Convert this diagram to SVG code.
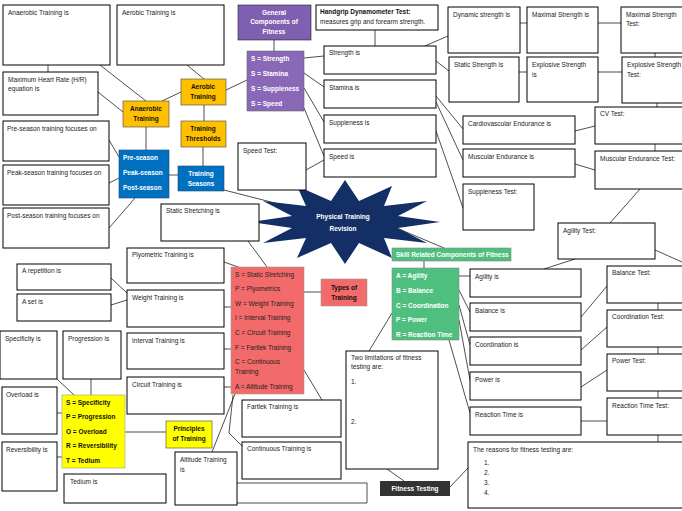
<svg xmlns="http://www.w3.org/2000/svg" width="682" height="511" viewBox="0 0 682 511">
<style>
.b{fill:#fff;stroke:#000;stroke-width:1}
.t{font-family:"Liberation Sans",Arial,sans-serif;font-size:6.5px;fill:#222}
.w{font-family:"Liberation Sans",Arial,sans-serif;font-size:6.5px;fill:#fff;font-weight:bold}
.k{font-family:"Liberation Sans",Arial,sans-serif;font-size:6.5px;fill:#111;font-weight:bold}
.c line{stroke:#222;stroke-width:0.8}
</style>
<rect width="682" height="511" fill="#fff"/>
<g class="c">
<line x1="100" y1="65" x2="146" y2="101"/><line x1="187" y1="65" x2="204" y2="79"/>
<line x1="98" y1="92" x2="123" y2="112"/><line x1="162" y1="101" x2="181" y2="92"/>
<line x1="226" y1="90" x2="247" y2="80"/><line x1="204" y1="105" x2="204" y2="121"/>
<line x1="203" y1="147" x2="203" y2="166"/><line x1="146" y1="127" x2="146" y2="150"/>
<line x1="169" y1="175" x2="178" y2="175"/><line x1="109" y1="140" x2="119" y2="157"/>
<line x1="109" y1="183" x2="119" y2="178"/><line x1="109" y1="228" x2="135" y2="198"/>
<line x1="48" y1="65" x2="48" y2="72"/><line x1="224" y1="190" x2="310" y2="212"/>
<line x1="274" y1="40" x2="274" y2="51"/><line x1="304" y1="58" x2="324" y2="56"/>
<line x1="304" y1="73" x2="324" y2="87"/><line x1="304" y1="88" x2="324" y2="122"/>
<line x1="304" y1="108" x2="324" y2="156"/><line x1="306" y1="170" x2="324" y2="160"/>
<line x1="375" y1="30" x2="375" y2="46"/><line x1="425" y1="46" x2="448" y2="36"/>
<line x1="436" y1="61" x2="449" y2="71"/><line x1="520" y1="23" x2="527" y2="23"/>
<line x1="598" y1="23" x2="621" y2="23"/><line x1="519" y1="72" x2="527" y2="72"/>
<line x1="598" y1="72" x2="622" y2="72"/><line x1="655" y1="53" x2="655" y2="57"/>
<line x1="657" y1="103" x2="657" y2="107"/><line x1="655" y1="144" x2="655" y2="151"/>
<line x1="436" y1="96" x2="463" y2="129"/><line x1="436" y1="102" x2="463" y2="160"/>
<line x1="436" y1="131" x2="463" y2="208"/><line x1="575" y1="131" x2="595" y2="126"/>
<line x1="575" y1="164" x2="595" y2="170"/><line x1="640" y1="189" x2="610" y2="223"/>
<line x1="399" y1="229" x2="444" y2="248"/><line x1="424" y1="261" x2="424" y2="268"/>
<line x1="248" y1="241" x2="267" y2="267"/><line x1="224" y1="262" x2="241" y2="268"/>
<line x1="304" y1="292" x2="321" y2="292"/><line x1="224" y1="307" x2="231" y2="307"/>
<line x1="224" y1="349" x2="231" y2="349"/><line x1="224" y1="387" x2="231" y2="387"/>
<line x1="111" y1="278" x2="127" y2="293"/><line x1="111" y1="305" x2="127" y2="300"/>
<line x1="57" y1="379" x2="74" y2="395"/><line x1="91" y1="379" x2="91" y2="395"/>
<line x1="57" y1="413" x2="62" y2="413"/><line x1="57" y1="457" x2="62" y2="457"/>
<line x1="125" y1="432" x2="166" y2="432"/><line x1="304" y1="370" x2="322" y2="400"/>
<line x1="235" y1="394" x2="212" y2="452"/><line x1="233" y1="395" x2="229" y2="433"/><line x1="229" y1="433" x2="242" y2="446"/>
<line x1="459" y1="276" x2="470" y2="276"/><line x1="459" y1="290" x2="470" y2="312"/>
<line x1="459" y1="305" x2="470" y2="345"/><line x1="459" y1="320" x2="470" y2="380"/>
<line x1="449" y1="340" x2="470" y2="413"/><line x1="392" y1="313" x2="369" y2="351"/>
<line x1="387" y1="469" x2="404" y2="481"/><line x1="450" y1="487" x2="468" y2="468"/>
<line x1="581" y1="317" x2="607" y2="286"/><line x1="581" y1="350" x2="607" y2="327"/>
<line x1="581" y1="387" x2="607" y2="370"/><line x1="581" y1="421" x2="607" y2="421"/>
<line x1="658" y1="303" x2="658" y2="310"/><line x1="658" y1="347" x2="658" y2="354"/>
<line x1="658" y1="391" x2="658" y2="398"/><line x1="658" y1="435" x2="658" y2="442"/>
<line x1="544" y1="269" x2="575" y2="259"/><line x1="655" y1="250" x2="682" y2="262"/>
<line x1="237" y1="483" x2="367" y2="483"/><line x1="367" y1="483" x2="367" y2="503"/><line x1="237" y1="503" x2="367" y2="503"/>
</g>
<g id="star"><polygon points="440,222 398,228 427,243 384,238 392,258 359,243 345,264 331,243 297,258 306,238 263,243 292,228 250,222 292,216 263,201 306,206 297,186 331,201 345,180 359,201 392,186 384,206 427,201 398,216" fill="#142f66"/>
<text class="w" x="343" y="219" text-anchor="middle" font-size="7.5">Physical Training</text><text class="w" x="343" y="231" text-anchor="middle" font-size="7.5">Revision</text></g>
<g id="n-anaerobic-is"><rect class="b" x="3" y="5" width="107" height="60"/><text class="t" x="8" y="15">Anaerobic Training is</text></g>
<g id="n-aerobic-is"><rect class="b" x="117" y="5" width="107" height="60"/><text class="t" x="122" y="15">Aerobic Training is</text></g>
<g id="n-mhr"><rect class="b" x="3" y="72" width="95" height="43"/><text class="t" x="8" y="82">Maximum Heart Rate (H/R)</text><text class="t" x="8" y="91">equation is</text></g>
<g id="n-anaerobic"><rect x="123" y="101" width="46" height="26" fill="#ffc000" stroke="#444" stroke-width="0.6"/><text class="k" x="146" y="111" text-anchor="middle">Anaerobic</text><text class="k" x="146" y="121" text-anchor="middle">Training</text></g>
<g id="n-aerobic"><rect x="181" y="79" width="45" height="26" fill="#ffc000" stroke="#444" stroke-width="0.6"/><text class="k" x="203" y="89" text-anchor="middle">Aerobic</text><text class="k" x="203" y="99" text-anchor="middle">Training</text></g>
<g id="n-thresholds"><rect x="181" y="121" width="45" height="26" fill="#ffc000" stroke="#444" stroke-width="0.6"/><text class="k" x="203" y="131" text-anchor="middle">Training</text><text class="k" x="203" y="141" text-anchor="middle">Thresholds</text></g>
<g id="n-general"><rect x="238" y="5" width="73" height="35" fill="#7f5faf" stroke="#222" stroke-width="0.6"/><text class="w" x="274" y="15" text-anchor="middle">General</text><text class="w" x="274" y="24" text-anchor="middle">Components of</text><text class="w" x="274" y="34" text-anchor="middle">Fitness</text></g>
<g id="n-ssss"><rect x="247" y="51" width="57" height="60" fill="#8a68b8" stroke="#666" stroke-width="0.6"/><text class="w" x="251" y="61">S = Strength</text><text class="w" x="251" y="76">S = Stamina</text><text class="w" x="251" y="91">S = Suppleness</text><text class="w" x="251" y="106">S = Speed</text></g>
<g id="n-handgrip"><rect class="b" x="316" y="5" width="122" height="25" stroke-width="0.6"/><text class="k" x="320" y="14">Handgrip Dynamometer Test:</text><text class="t" x="320" y="24">measures grip and forearm strength.</text></g>
<g id="n-pre"><rect class="b" x="3" y="121" width="106" height="40"/><text class="t" x="7" y="131">Pre-season training focuses on</text></g>
<g id="n-peak"><rect class="b" x="3" y="165" width="106" height="40"/><text class="t" x="7" y="175">Peak-season training focuses on</text></g>
<g id="n-post"><rect class="b" x="3" y="208" width="106" height="40"/><text class="t" x="7" y="218">Post-season training focuses on</text></g>
<g id="n-seasons-list"><rect x="119" y="150" width="50" height="48" fill="#0070c0" stroke="#1f4e79" stroke-width="0.6"/><text class="w" x="123" y="160">Pre-season</text><text class="w" x="123" y="175">Peak-season</text><text class="w" x="123" y="190">Post-season</text></g>
<g id="n-seasons"><rect x="178" y="166" width="46" height="25" fill="#0070c0" stroke="#1f4e79" stroke-width="0.6"/><text class="w" x="201" y="176" text-anchor="middle">Training</text><text class="w" x="201" y="186" text-anchor="middle">Seasons</text></g>
<g id="n-speedtest"><rect class="b" x="238" y="143" width="68" height="47"/><text class="t" x="243" y="153">Speed Test:</text></g>
<g id="n-static-stretch"><rect class="b" x="161" y="204" width="98" height="37" stroke-width="0.6"/><text class="t" x="166" y="213">Static Stretching is</text></g>
<g id="n-strength"><rect class="b" x="324" y="46" width="112" height="28"/><text class="t" x="329" y="55">Strength is</text></g>
<g id="n-stamina"><rect class="b" x="324" y="80" width="112" height="28"/><text class="t" x="329" y="90">Stamina is</text></g>
<g id="n-suppleness"><rect class="b" x="324" y="115" width="112" height="28"/><text class="t" x="329" y="125">Suppleness is</text></g>
<g id="n-speed"><rect class="b" x="324" y="149" width="112" height="28"/><text class="t" x="329" y="159">Speed is</text></g>
<g id="n-dynamic"><rect class="b" x="448" y="7" width="72" height="46"/><text class="t" x="453" y="17">Dynamic strength is</text></g>
<g id="n-maximal"><rect class="b" x="527" y="7" width="71" height="46"/><text class="t" x="532" y="17">Maximal Strength is</text></g>
<g id="n-maximal-test"><rect class="b" x="621" y="7" width="70" height="46"/><text class="t" x="626" y="17">Maximal Strength</text><text class="t" x="626" y="26">Test:</text></g>
<g id="n-static-str"><rect class="b" x="449" y="57" width="70" height="45"/><text class="t" x="454" y="67">Static Strength is</text></g>
<g id="n-explosive"><rect class="b" x="527" y="57" width="71" height="45"/><text class="t" x="532" y="67">Explosive Strength</text><text class="t" x="532" y="77">is</text></g>
<g id="n-explosive-test"><rect class="b" x="622" y="57" width="70" height="46"/><text class="t" x="627" y="67">Explosive Strength</text><text class="t" x="627" y="77">Test:</text></g>
<g id="n-cv"><rect class="b" x="463" y="116" width="112" height="28"/><text class="t" x="468" y="126">Cardiovascular Endurance is</text></g>
<g id="n-muscular"><rect class="b" x="463" y="149" width="112" height="28"/><text class="t" x="468" y="159">Muscular Endurance is</text></g>
<g id="n-cvtest"><rect class="b" x="595" y="107" width="95" height="37"/><text class="t" x="600" y="116">CV Test:</text></g>
<g id="n-mettest"><rect class="b" x="595" y="151" width="95" height="38"/><text class="t" x="600" y="161">Muscular Endurance Test:</text></g>
<g id="n-supp-test"><rect class="b" x="463" y="184" width="71" height="46"/><text class="t" x="468" y="194">Suppleness Test:</text></g>
<g id="n-agility-test"><rect class="b" x="558" y="223" width="97" height="36"/><text class="t" x="563" y="233">Agility Test:</text></g>
<g id="n-skill"><rect x="392" y="248" width="119" height="13" fill="#4fbf7f" stroke="#888" stroke-width="0.6"/><text class="w" x="396" y="257">Skill Related Components of Fitness</text></g>
<g id="n-skill-list"><rect x="392" y="268" width="67" height="72" fill="#4fbf7f" stroke="#888" stroke-width="0.6"/><text class="w" x="396" y="278">A = Agility</text><text class="w" x="396" y="293">B = Balance</text><text class="w" x="396" y="308">C = Coordination</text><text class="w" x="396" y="322">P = Power</text><text class="w" x="396" y="337">R = Reaction Time</text></g>
<g id="n-types"><rect x="321" y="279" width="46" height="27" fill="#f26a6a" stroke="#999" stroke-width="0.6"/><text class="k" x="344" y="290" text-anchor="middle" font-weight="normal">Types of</text><text class="k" x="344" y="300" text-anchor="middle" font-weight="normal">Training</text></g>
<g id="n-types-list"><rect x="231" y="267" width="73" height="127" fill="#f26a6a" stroke="#999" stroke-width="0.6"/><text class="t" x="235" y="277">S = Static Stretching</text><text class="t" x="235" y="291">P = Plyometrics</text><text class="t" x="235" y="306">W = Weight Training</text><text class="t" x="235" y="320">I = Interval Training</text><text class="t" x="235" y="335">C = Circuit Training</text><text class="t" x="235" y="350">F = Fartlek Training</text><text class="t" x="235" y="364">C = Continuous</text><text class="t" x="235" y="374">Training</text><text class="t" x="235" y="389">A = Altitude Training</text></g>
<g id="n-plyo"><rect class="b" x="127" y="248" width="97" height="35" stroke-width="0.6"/><text class="t" x="132" y="257">Plyometric Training is</text></g>
<g id="n-weight"><rect class="b" x="127" y="290" width="97" height="37"/><text class="t" x="132" y="300">Weight Training is</text></g>
<g id="n-interval"><rect class="b" x="127" y="333" width="97" height="36"/><text class="t" x="132" y="343">Interval Training is</text></g>
<g id="n-circuit"><rect class="b" x="127" y="377" width="97" height="37" stroke-width="0.6"/><text class="t" x="132" y="387">Circuit Training is</text></g>
<g id="n-rep"><rect class="b" x="17" y="264" width="94" height="26"/><text class="t" x="22" y="273">A repetition is</text></g>
<g id="n-set"><rect class="b" x="17" y="294" width="94" height="27" stroke-width="0.6"/><text class="t" x="22" y="304">A set is</text></g>
<g id="n-specificity"><rect class="b" x="0" y="331" width="57" height="48"/><text class="t" x="5" y="341">Specificity is</text></g>
<g id="n-progression"><rect class="b" x="63" y="331" width="58" height="48"/><text class="t" x="68" y="341">Progression is</text></g>
<g id="n-overload"><rect class="b" x="2" y="387" width="55" height="47"/><text class="t" x="6" y="397">Overload is</text></g>
<g id="n-reversibility"><rect class="b" x="2" y="442" width="55" height="49"/><text class="t" x="6" y="452">Reversibility is</text></g>
<g id="n-tedium"><rect class="b" x="64" y="474" width="102" height="29"/><text class="t" x="70" y="484">Tedium is</text></g>
<g id="n-spor"><rect x="62" y="395" width="63" height="73" fill="#ffff00" stroke="#999" stroke-width="0.6"/><text class="k" x="66" y="405">S = Specificity</text><text class="k" x="66" y="419">P = Progression</text><text class="k" x="66" y="434">O = Overload</text><text class="k" x="66" y="448">R = Reversibility</text><text class="k" x="66" y="463">T = Tedium</text></g>
<g id="n-principles"><rect x="166" y="421" width="46" height="27" fill="#ffff00" stroke="#444" stroke-width="0.6"/><text class="k" x="189" y="431" text-anchor="middle">Principles</text><text class="k" x="189" y="441" text-anchor="middle">of Training</text></g>
<g id="n-fartlek"><rect class="b" x="242" y="400" width="99" height="37"/><text class="t" x="247" y="409">Fartlek Training is</text></g>
<g id="n-continuous"><rect class="b" x="242" y="442" width="99" height="37" stroke-width="0.6"/><text class="t" x="247" y="451">Continuous Training is</text></g>
<g id="n-altitude"><rect class="b" x="175" y="452" width="62" height="53" stroke-width="0.6"/><text class="t" x="180" y="462">Altitude Training</text><text class="t" x="180" y="472">is</text></g>
<g id="n-limits"><rect class="b" x="346" y="351" width="92" height="118"/><text class="t" x="351" y="360">Two limitations of fitness</text><text class="t" x="351" y="369">testing are:</text><text class="t" x="351" y="384">1.</text><text class="t" x="351" y="424">2.</text></g>
<g id="n-fitness-testing"><rect x="380" y="481" width="70" height="15" fill="#333"/><text class="w" x="415" y="491" text-anchor="middle">Fitness Testing</text></g>
<g id="n-reasons"><rect class="b" x="468" y="442" width="220" height="66"/><text class="t" x="473" y="452">The reasons for fitness testing are:</text><text class="t" x="484" y="465">1.</text><text class="t" x="484" y="475">2.</text><text class="t" x="484" y="485">3.</text><text class="t" x="484" y="495">4.</text></g>
<g id="n-agility"><rect class="b" x="470" y="269" width="111" height="28"/><text class="t" x="475" y="279">Agility is</text></g>
<g id="n-balance"><rect class="b" x="470" y="303" width="111" height="28"/><text class="t" x="475" y="313">Balance is</text></g>
<g id="n-coordination"><rect class="b" x="470" y="337" width="111" height="28"/><text class="t" x="475" y="347">Coordination is</text></g>
<g id="n-power"><rect class="b" x="470" y="372" width="111" height="28" stroke-width="0.6"/><text class="t" x="475" y="382">Power is</text></g>
<g id="n-reaction"><rect class="b" x="470" y="407" width="111" height="28"/><text class="t" x="475" y="417">Reaction Time is</text></g>
<g id="n-balance-test"><rect class="b" x="607" y="266" width="80" height="37" stroke-width="0.6"/><text class="t" x="612" y="275">Balance Test:</text></g>
<g id="n-coord-test"><rect class="b" x="607" y="310" width="80" height="37" stroke-width="0.6"/><text class="t" x="612" y="319">Coordination Test:</text></g>
<g id="n-power-test"><rect class="b" x="607" y="354" width="80" height="37" stroke-width="0.6"/><text class="t" x="612" y="363">Power Test:</text></g>
<g id="n-reaction-test"><rect class="b" x="607" y="398" width="80" height="37" stroke-width="0.6"/><text class="t" x="612" y="408">Reaction Time Test:</text></g>
</svg>
